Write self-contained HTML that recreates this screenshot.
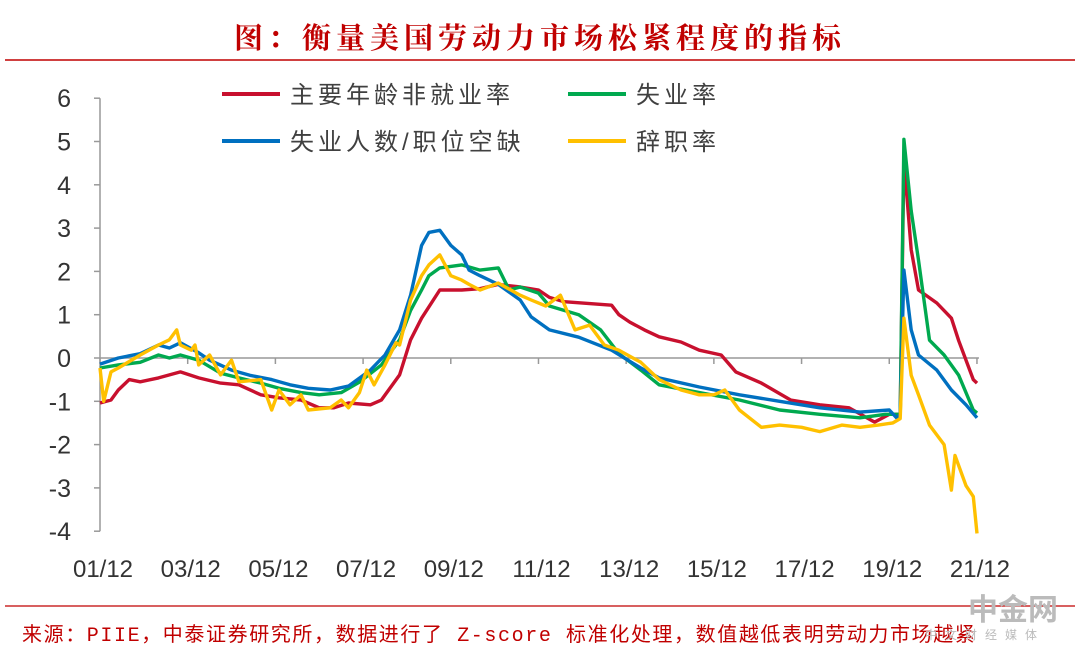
<!DOCTYPE html>
<html><head><meta charset="utf-8">
<style>
body{margin:0;background:#fff;width:1080px;height:655px;overflow:hidden;font-family:"Liberation Sans","Noto Sans CJK SC",sans-serif;}
#wrap{position:relative;width:1080px;height:655px;}
.title{position:absolute;left:0;top:16px;width:1080px;text-align:center;color:#c00000;font-size:29px;font-weight:bold;font-family:"Liberation Serif","Noto Serif CJK SC",serif;letter-spacing:5px;}
.src{position:absolute;left:22px;top:618px;color:#c00000;font-size:20px;font-family:"Liberation Mono","Noto Sans CJK SC",monospace;letter-spacing:1.6px;white-space:nowrap;}
.wm{position:absolute;left:968px;top:585px;color:#bbb;font-size:30px;font-weight:bold;}
.wm2{position:absolute;left:925px;top:626px;color:#bbb;font-size:12px;letter-spacing:8px;}
</style></head><body>
<div id="wrap">
<div class="title">图：衡量美国劳动力市场松紧程度的指标</div>
<svg id="chart" width="1080" height="655" style="position:absolute;left:0;top:0"></svg>
<div class="src">来源：PIIE，中泰证券研究所，数据进行了 Z-score 标准化处理，数值越低表明劳动力市场越紧</div>
<div class="wm">中金网</div>
<div class="wm2">中文财经媒体</div>
</div>
<script>
const xLabels=["01/12","03/12","05/12","07/12","09/12","11/12","13/12","15/12","17/12","19/12","21/12"];
const yTicks=[6,5,4,3,2,1,0,-1,-2,-3,-4];
// months since 2001/12
const redM=[0,3,5,8,11,16,22,27,33,38,44,49,55,60,64,68,74,77,82,85,88,93,99,104,109,115,120,123,127,140,142,145,149,153,159,164,170,174,181,189,197,205,212,216,219,220,222,224,229,233,235,239,240];
const redV=[-1.04,-0.97,-0.74,-0.5,-0.55,-0.46,-0.32,-0.46,-0.58,-0.62,-0.85,-0.92,-0.97,-1.15,-1.15,-1.04,-1.08,-0.97,-0.39,0.42,0.92,1.57,1.57,1.6,1.7,1.64,1.57,1.4,1.3,1.22,1.0,0.83,0.65,0.49,0.37,0.18,0.07,-0.32,-0.58,-0.97,-1.08,-1.15,-1.48,-1.3,-1.3,4.6,2.5,1.57,1.27,0.92,0.4,-0.5,-0.58];
const greenM=[0,5,11,16,19,22,27,33,38,44,49,55,60,66,71,77,82,85,88,90,93,99,104,109,112,115,120,123,131,137,142,148,153,164,175,186,197,208,215,219,220,222,224,227,231,235,239,240];
const greenV=[-0.23,-0.16,-0.1,0.07,0,0.07,-0.05,-0.35,-0.46,-0.58,-0.7,-0.8,-0.85,-0.8,-0.56,-0.16,0.42,1.1,1.57,1.9,2.08,2.15,2.03,2.08,1.57,1.64,1.5,1.2,1.0,0.65,0.1,-0.28,-0.62,-0.8,-0.97,-1.2,-1.3,-1.38,-1.3,-1.3,5.05,3.4,2.26,0.41,0.07,-0.4,-1.2,-1.27];
const blueM=[0,5,11,16,19,22,27,30,36,41,47,52,57,63,68,74,78,82,85,88,90,93,96,99,101,104,109,115,118,123,131,140,148,153,164,175,186,197,208,216,218,219,220,222,224,229,233,237,240];
const blueV=[-0.14,0,0.1,0.3,0.23,0.35,0.12,-0.05,-0.28,-0.4,-0.5,-0.62,-0.7,-0.74,-0.65,-0.28,0.07,0.65,1.45,2.6,2.9,2.95,2.6,2.38,2.03,1.9,1.7,1.34,0.95,0.65,0.48,0.18,-0.23,-0.46,-0.67,-0.85,-1.0,-1.15,-1.25,-1.2,-1.38,-1.3,2.03,0.65,0.07,-0.28,-0.74,-1.08,-1.38];
const yellowM=[0,1,3,5,11,16,19,21,22,25,26,27,30,33,36,38,44,47,49,52,55,57,63,66,68,71,73,75,78,81,82,85,88,90,93,96,99,101,104,109,115,118,122,126,130,134,138,142,148,153,159,164,168,171,175,181,186,192,197,203,208,213,217,219,220,222,224,227,231,233,234,237,239,240];
const yellowV=[-0.23,-1.0,-0.32,-0.23,0.07,0.3,0.42,0.65,0.3,0.18,0.3,-0.16,0.07,-0.39,-0.05,-0.55,-0.5,-1.2,-0.74,-1.08,-0.85,-1.2,-1.15,-0.97,-1.15,-0.8,-0.28,-0.62,-0.16,0.35,0.3,1.34,1.9,2.15,2.38,1.9,1.8,1.7,1.57,1.73,1.45,1.34,1.2,1.45,0.65,0.76,0.3,0.18,-0.1,-0.5,-0.74,-0.85,-0.85,-0.74,-1.2,-1.6,-1.55,-1.6,-1.7,-1.55,-1.6,-1.55,-1.5,-1.4,0.92,-0.4,-0.85,-1.55,-2.0,-3.05,-2.25,-2.95,-3.2,-4.05];

const NS="http://www.w3.org/2000/svg";
const svg=document.getElementById('chart');
const X0=100,PXM=3.654,Y0=358,PXU=43.3;
const xs=m=>X0+m*PXM, ys=v=>Y0-v*PXU;
function mk(t,a){const e=document.createElementNS(NS,t);for(const k in a)e.setAttribute(k,a[k]);svg.appendChild(e);return e;}
let l=mk('line',{x1:5,x2:1075,y1:60,y2:60,stroke:'#c00000','stroke-width':1.5});


l=mk('line',{x1:5,x2:1075,y1:606,y2:606,stroke:'#c00000','stroke-width':1.2});


l=mk('line',{x1:X0,x2:X0,y1:ys(6),y2:ys(-4),stroke:'#999','stroke-width':1.5});


yTicks.forEach(v=>{
 const t=mk('line',{x1:X0-6,x2:X0,y1:ys(v),y2:ys(v),stroke:'#999','stroke-width':1.5});
 
 
 const tx=mk('text',{x:71,y:ys(v)+9,'text-anchor':'end','font-size':25,fill:'#333','font-family':'Liberation Sans, sans-serif'});
 tx.textContent=v;
 
 
});
l=mk('line',{x1:X0,x2:xs(240)+2,y1:Y0,y2:Y0,stroke:'#999','stroke-width':1.5});


xLabels.forEach((s,i)=>{
 const x=xs(i*24);
 const t=mk('line',{x1:x,x2:x,y1:Y0,y2:Y0+6,stroke:'#999','stroke-width':1.5});
 
 
 const tx=mk('text',{x:x+3,y:577,'text-anchor':'middle','font-size':24,fill:'#333','font-family':'Liberation Sans, sans-serif'});
 tx.textContent=s;
 
 
});
function series(M,V,c,name){
 const d=M.map((m,i)=>(i?'L':'M')+xs(m).toFixed(1)+','+ys(V[i]).toFixed(1)).join('');
 const p=mk('path',{d:d,fill:'none',stroke:c,'stroke-width':3.4,'stroke-linejoin':'round'});
 
 
}
series(redM,redV,'#c8102e','series-prime-age-nonemployment');
series(greenM,greenV,'#00a94f','series-unemployment-rate');
series(blueM,blueV,'#0070c0','series-unemployed-per-vacancy');
series(yellowM,yellowV,'#ffc000','series-quits-rate');
const leg=[['#c8102e','主要年龄非就业率',222,94],['#00a94f','失业率',568,94],['#0070c0','失业人数/职位空缺',222,141],['#ffc000','辞职率',568,141]];
leg.forEach(g=>{
 const s=mk('line',{x1:g[2],x2:g[2]+58,y1:g[3],y2:g[3],stroke:g[0],'stroke-width':4});
 
 
 const t=mk('text',{x:g[2]+68,y:g[3]+9,'font-size':24,fill:'#404040','font-family':'Liberation Sans, Noto Sans CJK SC, sans-serif','letter-spacing':4});
 t.textContent=g[1];
 
 
});
</script>
</body></html>
